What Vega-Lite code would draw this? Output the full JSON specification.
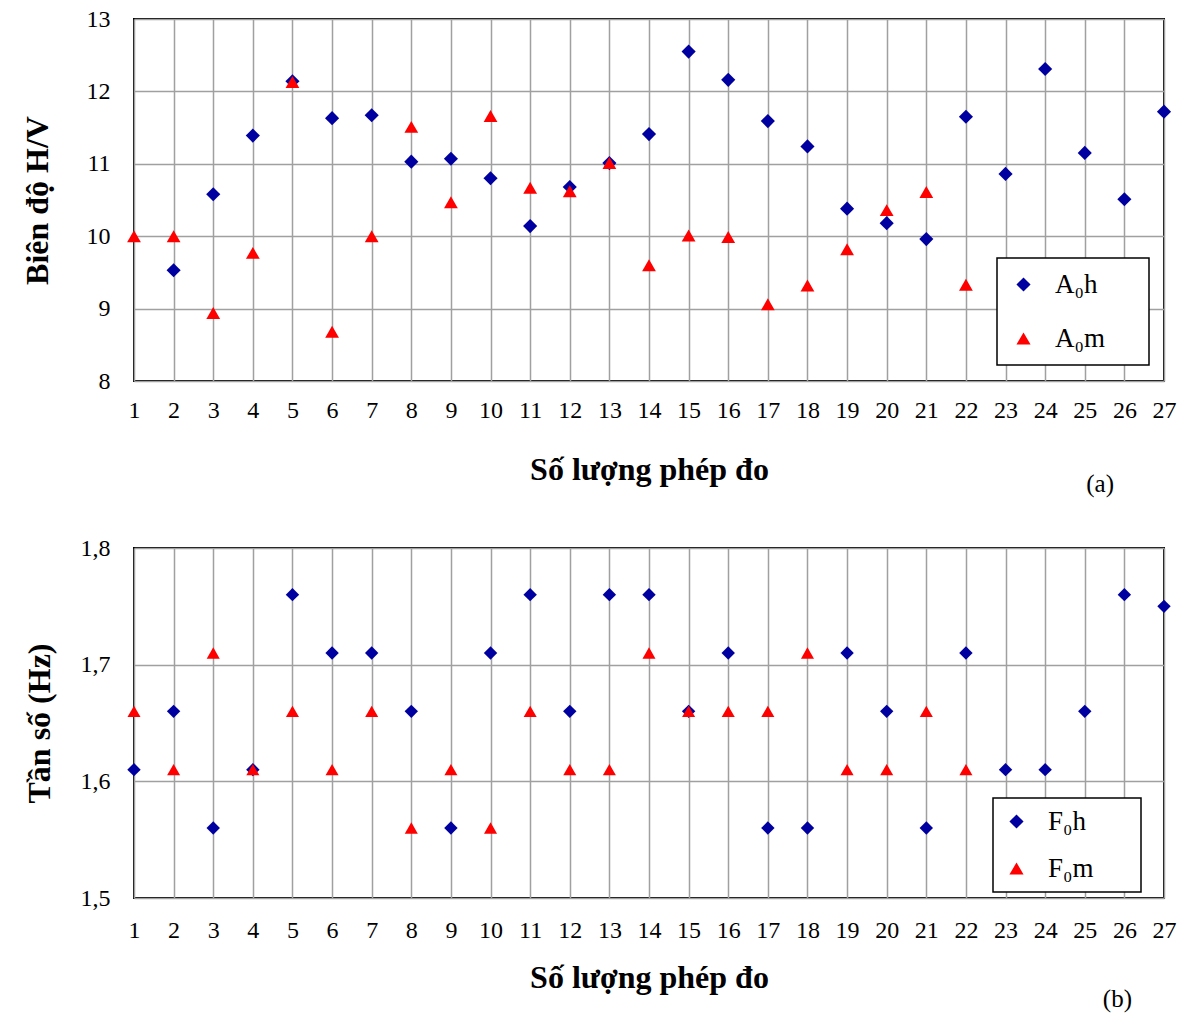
{
  "$schema": "https://vega.github.io/schema/vega-lite/v6.json",
  "padding": {"left": 20, "top": 6, "right": 10, "bottom": 0},
  "spacing": 37,
  "config": {
    "font": "Liberation Serif",
    "view": {"stroke": "black", "strokeWidth": 2},
    "axis": {
      "labelFont": "Liberation Serif", "labelFontSize": 24, "labelColor": "black",
      "titleFont": "Liberation Serif", "titleFontSize": 32, "titleFontWeight": "bold", "titleColor": "black",
      "ticks": false, "domain": false, "gridColor": "#a0a0a0", "gridWidth": 1.5, "gridOpacity": 1
    },
    "legend": {
      "labelFont": "Liberation Serif", "labelFontSize": 27, "labelColor": "black",
      "strokeColor": "black", "strokeWidth": 1.5, "fillColor": "white",
      "labelOffset": 18, "symbolStrokeWidth": 0,
      "titleOrient": "right", "titleOpacity": 0, "titlePadding": 3, "titleFont": "Liberation Serif", "titleFontWeight": "normal"
    },
    "title": {"font": "Liberation Serif", "fontSize": 25, "fontWeight": "normal", "color": "black"}
  },
  "datasets": {
    "a": [
      {"n": 2, "s": "A₀h", "v": 9.53}, {"n": 3, "s": "A₀h", "v": 10.58}, {"n": 4, "s": "A₀h", "v": 11.39},
      {"n": 5, "s": "A₀h", "v": 12.14}, {"n": 6, "s": "A₀h", "v": 11.63}, {"n": 7, "s": "A₀h", "v": 11.67},
      {"n": 8, "s": "A₀h", "v": 11.03}, {"n": 9, "s": "A₀h", "v": 11.07}, {"n": 10, "s": "A₀h", "v": 10.80},
      {"n": 11, "s": "A₀h", "v": 10.14}, {"n": 12, "s": "A₀h", "v": 10.68}, {"n": 13, "s": "A₀h", "v": 11.01},
      {"n": 14, "s": "A₀h", "v": 11.41}, {"n": 15, "s": "A₀h", "v": 12.55}, {"n": 16, "s": "A₀h", "v": 12.16},
      {"n": 17, "s": "A₀h", "v": 11.59}, {"n": 18, "s": "A₀h", "v": 11.24}, {"n": 19, "s": "A₀h", "v": 10.38},
      {"n": 20, "s": "A₀h", "v": 10.18}, {"n": 21, "s": "A₀h", "v": 9.96}, {"n": 22, "s": "A₀h", "v": 11.65},
      {"n": 23, "s": "A₀h", "v": 10.86}, {"n": 24, "s": "A₀h", "v": 12.31}, {"n": 25, "s": "A₀h", "v": 11.15},
      {"n": 26, "s": "A₀h", "v": 10.51}, {"n": 27, "s": "A₀h", "v": 11.72},
      {"n": 1, "s": "A₀m", "v": 10.0}, {"n": 2, "s": "A₀m", "v": 10.0}, {"n": 3, "s": "A₀m", "v": 8.94},
      {"n": 4, "s": "A₀m", "v": 9.77}, {"n": 5, "s": "A₀m", "v": 12.13}, {"n": 6, "s": "A₀m", "v": 8.68},
      {"n": 7, "s": "A₀m", "v": 10.0}, {"n": 8, "s": "A₀m", "v": 11.51}, {"n": 9, "s": "A₀m", "v": 10.47},
      {"n": 10, "s": "A₀m", "v": 11.66}, {"n": 11, "s": "A₀m", "v": 10.67}, {"n": 12, "s": "A₀m", "v": 10.62},
      {"n": 13, "s": "A₀m", "v": 11.01}, {"n": 14, "s": "A₀m", "v": 9.60}, {"n": 15, "s": "A₀m", "v": 10.01},
      {"n": 16, "s": "A₀m", "v": 9.99}, {"n": 17, "s": "A₀m", "v": 9.06}, {"n": 18, "s": "A₀m", "v": 9.32},
      {"n": 19, "s": "A₀m", "v": 9.82}, {"n": 20, "s": "A₀m", "v": 10.36}, {"n": 21, "s": "A₀m", "v": 10.61},
      {"n": 22, "s": "A₀m", "v": 9.33}
    ],
    "b": [
      {"n": 1, "s": "F₀h", "v": 1.61}, {"n": 2, "s": "F₀h", "v": 1.66}, {"n": 3, "s": "F₀h", "v": 1.56},
      {"n": 4, "s": "F₀h", "v": 1.61}, {"n": 5, "s": "F₀h", "v": 1.76}, {"n": 6, "s": "F₀h", "v": 1.71},
      {"n": 7, "s": "F₀h", "v": 1.71}, {"n": 8, "s": "F₀h", "v": 1.66}, {"n": 9, "s": "F₀h", "v": 1.56},
      {"n": 10, "s": "F₀h", "v": 1.71}, {"n": 11, "s": "F₀h", "v": 1.76}, {"n": 12, "s": "F₀h", "v": 1.66},
      {"n": 13, "s": "F₀h", "v": 1.76}, {"n": 14, "s": "F₀h", "v": 1.76}, {"n": 15, "s": "F₀h", "v": 1.66},
      {"n": 16, "s": "F₀h", "v": 1.71}, {"n": 17, "s": "F₀h", "v": 1.56}, {"n": 18, "s": "F₀h", "v": 1.56},
      {"n": 19, "s": "F₀h", "v": 1.71}, {"n": 20, "s": "F₀h", "v": 1.66}, {"n": 21, "s": "F₀h", "v": 1.56},
      {"n": 22, "s": "F₀h", "v": 1.71}, {"n": 23, "s": "F₀h", "v": 1.61}, {"n": 24, "s": "F₀h", "v": 1.61},
      {"n": 25, "s": "F₀h", "v": 1.66}, {"n": 26, "s": "F₀h", "v": 1.76}, {"n": 27, "s": "F₀h", "v": 1.75},
      {"n": 1, "s": "F₀m", "v": 1.66}, {"n": 2, "s": "F₀m", "v": 1.61}, {"n": 3, "s": "F₀m", "v": 1.71},
      {"n": 4, "s": "F₀m", "v": 1.61}, {"n": 5, "s": "F₀m", "v": 1.66}, {"n": 6, "s": "F₀m", "v": 1.61},
      {"n": 7, "s": "F₀m", "v": 1.66}, {"n": 8, "s": "F₀m", "v": 1.56}, {"n": 9, "s": "F₀m", "v": 1.61},
      {"n": 10, "s": "F₀m", "v": 1.56}, {"n": 11, "s": "F₀m", "v": 1.66}, {"n": 12, "s": "F₀m", "v": 1.61},
      {"n": 13, "s": "F₀m", "v": 1.61}, {"n": 14, "s": "F₀m", "v": 1.71}, {"n": 15, "s": "F₀m", "v": 1.66},
      {"n": 16, "s": "F₀m", "v": 1.66}, {"n": 17, "s": "F₀m", "v": 1.66}, {"n": 18, "s": "F₀m", "v": 1.71},
      {"n": 19, "s": "F₀m", "v": 1.61}, {"n": 20, "s": "F₀m", "v": 1.61}, {"n": 21, "s": "F₀m", "v": 1.66},
      {"n": 22, "s": "F₀m", "v": 1.61}
    ]
  },
  "resolve": {"scale": {"color": "independent", "shape": "independent", "x": "independent", "y": "independent"}, "legend": {"color": "independent", "shape": "independent"}},
  "vconcat": [
    {
      "width": 1030, "height": 362,
      "data": {"name": "a"},
      "title": {"text": "(a)", "orient": "bottom", "anchor": "end", "dx": -62, "offset": -13},
      "mark": {"type": "point", "filled": true, "opacity": 1, "size": 200},
      "encoding": {
        "x": {"field": "n", "type": "quantitative", "scale": {"domain": [1, 27], "nice": false, "zero": false},
              "axis": {"values": [1,2,3,4,5,6,7,8,9,10,11,12,13,14,15,16,17,18,19,20,21,22,23,24,25,26,27], "title": "Số lượng phép  đo", "labelPadding": 17, "titlePadding": 32, "labelFlush": false}},
        "y": {"field": "v", "type": "quantitative", "scale": {"domain": [8, 13], "nice": false, "zero": false},
              "axis": {"values": [8,9,10,11,12,13], "title": "Biên độ H/V", "labelPadding": 24, "titlePadding": 32}},
        "color": {"field": "s", "type": "nominal", "scale": {"domain": ["A₀h", "A₀m"], "range": ["#0000A0", "#FF0000"]},
                  "legend": {"title": "abc", "titleFontSize": 20, "orient": "none", "legendX": 863, "legendY": 239, "padding": 13, "rowPadding": 26, "symbolSize": 200}},
        "shape": {"field": "s", "type": "nominal", "scale": {"domain": ["A₀h", "A₀m"], "range": ["diamond", "triangle-up"]}},
        "size": {"field": "s", "type": "nominal", "scale": {"domain": ["A₀h", "A₀m"], "range": [200, 170]}, "legend": null}
      }
    },
    {
      "width": 1030, "height": 350,
      "data": {"name": "b"},
      "title": {"text": "(b)", "orient": "bottom", "anchor": "end", "dx": -44, "offset": -6},
      "mark": {"type": "point", "filled": true, "opacity": 1, "size": 200},
      "encoding": {
        "x": {"field": "n", "type": "quantitative", "scale": {"domain": [1, 27], "nice": false, "zero": false},
              "axis": {"values": [1,2,3,4,5,6,7,8,9,10,11,12,13,14,15,16,17,18,19,20,21,22,23,24,25,26,27], "title": "Số lượng phép  đo", "labelPadding": 20, "titlePadding": 20, "labelFlush": false}},
        "y": {"field": "v", "type": "quantitative", "scale": {"domain": [1.5, 1.8], "nice": false, "zero": false},
              "axis": {"values": [1.5, 1.6, 1.7, 1.8], "labelExpr": "replace(format(datum.value, '.1f'), '.', ',')", "title": "Tần số (Hz)", "labelPadding": 24, "titlePadding": 24}},
        "color": {"field": "s", "type": "nominal", "scale": {"domain": ["F₀h", "F₀m"], "range": ["#0000A0", "#FF0000"]},
                  "legend": {"title": "abc", "titleFontSize": 25, "orient": "none", "legendX": 859, "legendY": 250, "padding": 10, "rowPadding": 19, "symbolSize": 200}},
        "shape": {"field": "s", "type": "nominal", "scale": {"domain": ["F₀h", "F₀m"], "range": ["diamond", "triangle-up"]}},
        "size": {"field": "s", "type": "nominal", "scale": {"domain": ["F₀h", "F₀m"], "range": [200, 170]}, "legend": null}
      }
    }
  ]
}
